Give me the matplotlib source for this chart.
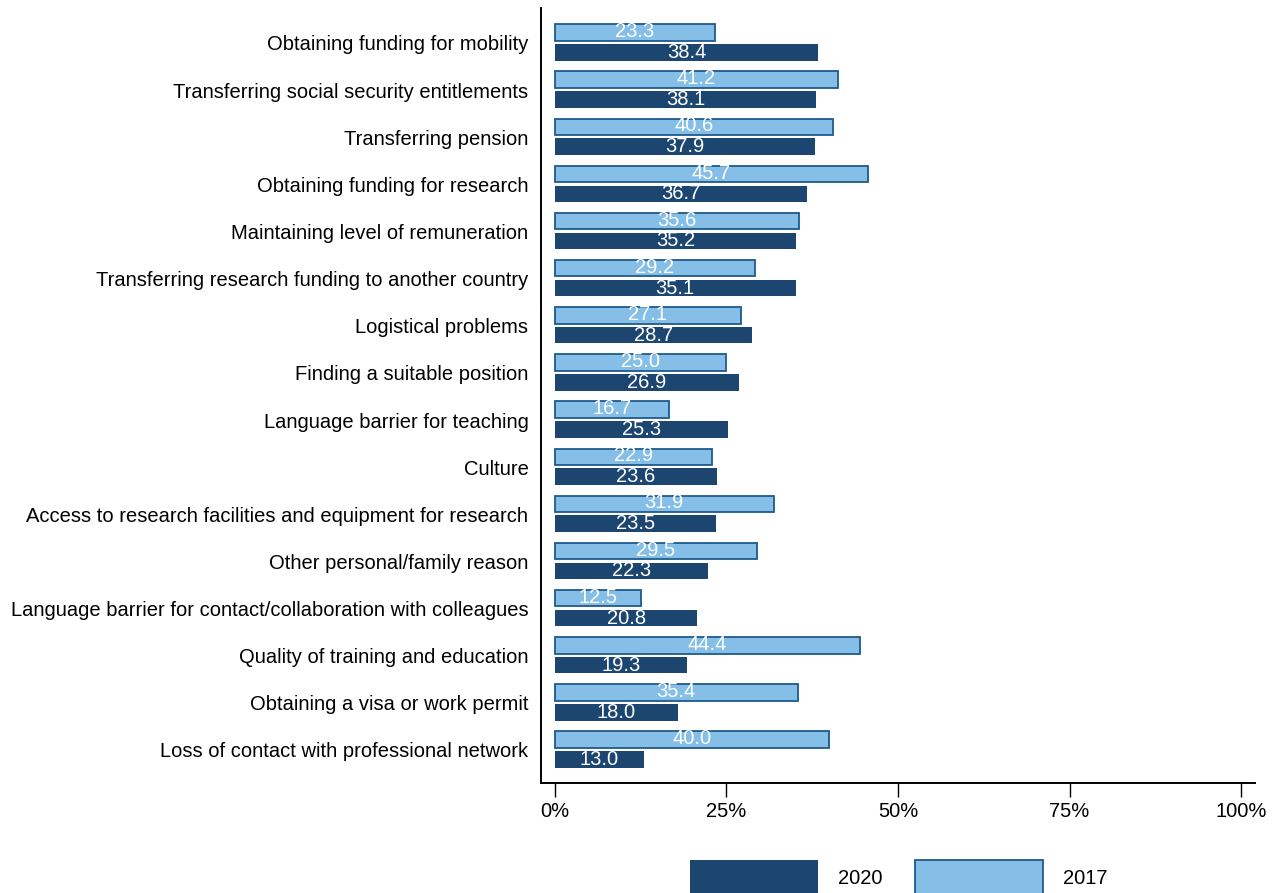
import matplotlib.pyplot as plt
import numpy as np
from matplotlib.patches import Patch

plt.rcParams['font.family'] = ['Liberation Sans', 'DejaVu Sans']

categories = [
    "Obtaining funding for mobility",
    "Transferring social security entitlements",
    "Transferring pension",
    "Obtaining funding for research",
    "Maintaining level of remuneration",
    "Transferring research funding to another country",
    "Logistical problems",
    "Finding a suitable position",
    "Language barrier for teaching",
    "Culture",
    "Access to research facilities and equipment for research",
    "Other personal/family reason",
    "Language barrier for contact/collaboration with colleagues",
    "Quality of training and education",
    "Obtaining a visa or work permit",
    "Loss of contact with professional network",
]
values_2020 = [38.4, 38.1, 37.9, 36.7, 35.2, 35.1, 28.7, 26.9, 25.3, 23.6, 23.5, 22.3, 20.8, 19.3, 18.0, 13.0]
values_2017 = [23.3, 41.2, 40.6, 45.7, 35.6, 29.2, 27.1, 25.0, 16.7, 22.9, 31.9, 29.5, 12.5, 44.4, 35.4, 40.0]

dark = "#1c4670"
light = "#85bfe8"
edge = "#1f5a8c"
fs = 14.5

fig = plt.figure(figsize=(12.84, 8.93), dpi=100)
ax = fig.add_axes([0.4213, 0.1232, 0.9774 - 0.4213, 0.991 - 0.1232])

y = np.arange(len(categories))
h = 0.35
ax.barh(y - 0.22, values_2017, height=h, color=light, edgecolor=edge, linewidth=1.3)
ax.barh(y + 0.20, values_2020, height=h, color=dark)

for i, (a, b) in enumerate(zip(values_2017, values_2020)):
    ax.text(a / 2, i - 0.24, f"{a:.1f}", color="white", ha="center", va="center", fontsize=fs)
    ax.text(b / 2, i + 0.20, f"{b:.1f}", color="white", ha="center", va="center", fontsize=fs)

ax.set_xlim(-2, 102)
ax.set_ylim(15.7, -0.74)
ax.set_yticks(y)
ax.set_yticklabels(categories, fontsize=fs)
ax.set_xticks([0, 25, 50, 75, 100])
ax.set_xticklabels(["0%", "25%", "50%", "75%", "100%"], fontsize=fs)
ax.tick_params(axis='y', length=0, pad=9)
ax.tick_params(axis='x', length=10, width=1, pad=4)

for s in ["top", "right"]:
    ax.spines[s].set_visible(False)
for s in ["left", "bottom"]:
    ax.spines[s].set_linewidth(1.4)

handles = [Patch(facecolor=dark, label="2020"),
           Patch(facecolor=light, edgecolor=edge, linewidth=1.3, label="2017")]
fig.legend(handles=handles, loc="upper left", bbox_to_anchor=(690 / 1284, 1 - 860 / 893),
           ncol=2, frameon=False, fontsize=fs, handlelength=6.35, handleheight=2.4,
           borderpad=0, borderaxespad=0, handletextpad=1.0, columnspacing=1.6)

fig.savefig("out.png", dpi=100)
